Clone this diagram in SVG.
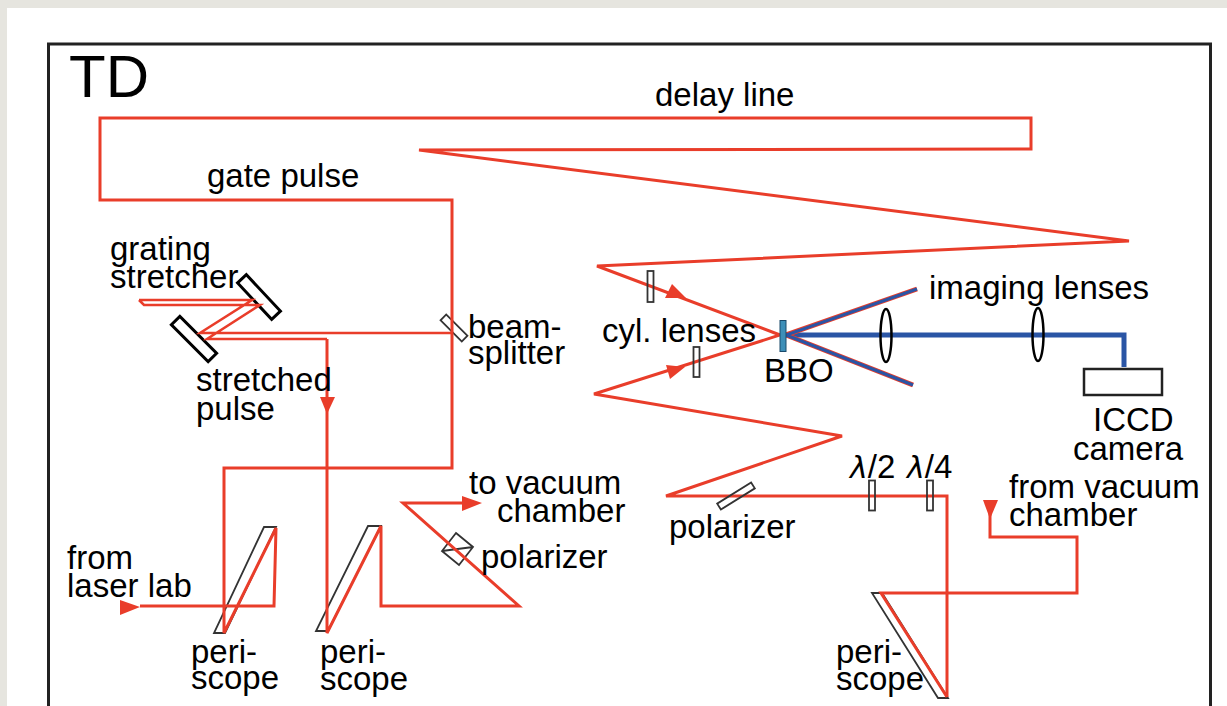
<svg xmlns="http://www.w3.org/2000/svg" width="1227" height="706" viewBox="0 0 1227 706">
<style>
text{font-family:"Liberation Sans",Arial,sans-serif;font-size:33px;fill:#000}
.r{fill:none;stroke:#e93d2a;stroke-width:3;stroke-linejoin:miter}
.t{fill:none;stroke:#e93d2a;stroke-width:2.500}
.b{fill:none;stroke:#2a55a5;stroke-width:5}
.o{fill:none;stroke:#333;stroke-width:1.800}
.m{fill:#fff;stroke:#000;stroke-width:3}
.l{fill:none;stroke:#000;stroke-width:2.500}
.h{fill:#e93d2a;stroke:none}
.lam{font-family:"DejaVu Sans",sans-serif;font-size:30px;font-style:italic}
</style>
<rect width="1227" height="706" fill="#e6e5df"/>
<rect x="7" y="8" width="1220" height="698" fill="#fff"/>
<rect x="48.500" y="44" width="1162" height="680" fill="none" stroke="#222" stroke-width="3"/>
<g id="periscope-1"><path class="o" d="M264 527H276L225 633H214Z"/></g>
<g id="periscope-2"><path class="o" d="M368 526H381L328 631H316Z"/></g>
<g id="periscope-3"><path class="o" d="M872 593H882L948 698H938Z"/></g>
<g id="polarizer-cube"><path class="o" d="M456 533L473 547L459 565L442 551ZM442 551L473 547"/></g>
<g id="grating-top"><rect class="m" x="-25" y="-6" width="50" height="12" transform="translate(259 297) rotate(47)"/></g>
<g id="grating-bottom"><rect class="m" x="-26" y="-6" width="52" height="12" transform="translate(194 339) rotate(45)"/></g>
<g id="beamsplitter"><rect class="o" style="fill:#fff" x="-15" y="-4" width="30" height="8" transform="translate(454 328) rotate(45)"/></g>
<g id="connectors">
<path class="r" d="M140 606H274L276 528L224 633V468H452V200H100V118H1031V149L419 150L1129 241L597 266L780 335L594 394L842 436L666 496H947V697"/>
<path class="t" d="M139 300H252L200 333H452M139 300L144 305H260L207 339H327"/>
<path class="r" d="M327 339V633L381 526V606H519L403 503H470"/>
<path class="r" d="M947 697L881 593H1077V537H990V510"/>
<path class="h" d="M320 397H335L327 414Z"/>
<path class="h" d="M120 600L140 607L120 615Z"/>
<path class="h" d="M462 496L482 503L462 511Z"/>
<path class="h" d="M983 500H998L990 519Z"/>
<path class="h" d="M672 284L686 298L665 298Z"/>
<path class="h" d="M666 365L685 367L670 379Z"/>
<path class="b" d="M786 335H1124V367"/>
<path fill="none" stroke="#e93d2a" stroke-width="5" d="M917 289L786 335L913 385"/>
<path fill="none" stroke="#2a55a5" stroke-width="3" d="M917 289L786 335L913 385"/>
</g>
<g id="cyl-lens-top"><rect class="o" x="647.500" y="271" width="6" height="31"/></g>
<g id="cyl-lens-bottom"><rect class="o" x="693.500" y="347" width="6" height="30"/></g>
<g id="bbo"><rect x="780" y="320.500" width="6" height="31" fill="#3d8fb8" stroke="#1a4a6a" stroke-width="1"/></g>
<g id="lens-1"><ellipse class="l" cx="886" cy="335.500" rx="5.500" ry="26.500"/></g>
<g id="lens-2"><ellipse class="l" cx="1038" cy="334.500" rx="5.500" ry="26.500"/></g>
<g id="iccd"><rect x="1084" y="369" width="78" height="26" fill="#fff" stroke="#222" stroke-width="2.500"/></g>
<g id="polarizer-right"><rect class="o" x="-20" y="-3.500" width="40" height="7" transform="translate(736 496) rotate(-32)"/></g>
<g id="waveplate-2"><rect class="o" x="869" y="480.500" width="6" height="30"/></g>
<g id="waveplate-4"><rect class="o" x="927" y="480.500" width="6" height="30"/></g>
<g id="labels">
<text x="69" y="97" style="font-size:60px">TD</text>
<text x="655" y="106">delay line</text>
<text x="207" y="187">gate pulse</text>
<text x="110" y="260">grating</text>
<text x="110" y="288">stretcher</text>
<text x="468" y="338">beam-</text>
<text x="468" y="364">splitter</text>
<text x="196" y="391">stretched</text>
<text x="196" y="420">pulse</text>
<text x="602" y="342">cyl. lenses</text>
<text x="764" y="382">BBO</text>
<text x="929" y="299">imaging lenses</text>
<text x="1093" y="431">ICCD</text>
<text x="1073" y="460">camera</text>
<text x="469" y="494">to vacuum</text>
<text x="497" y="522">chamber</text>
<text x="481" y="568">polarizer</text>
<text x="67" y="569">from</text>
<text x="67" y="597">laser lab</text>
<text x="191" y="663">peri-</text>
<text x="191" y="689">scope</text>
<text x="320" y="663">peri-</text>
<text x="320" y="690">scope</text>
<text x="669" y="538">polarizer</text>
<text x="850" y="478"><tspan class="lam">λ</tspan>/2</text>
<text x="907" y="478"><tspan class="lam">λ</tspan>/4</text>
<text x="1009" y="498">from vacuum</text>
<text x="1009" y="526">chamber</text>
<text x="836" y="663">peri-</text>
<text x="836" y="690">scope</text>
</g>
</svg>
